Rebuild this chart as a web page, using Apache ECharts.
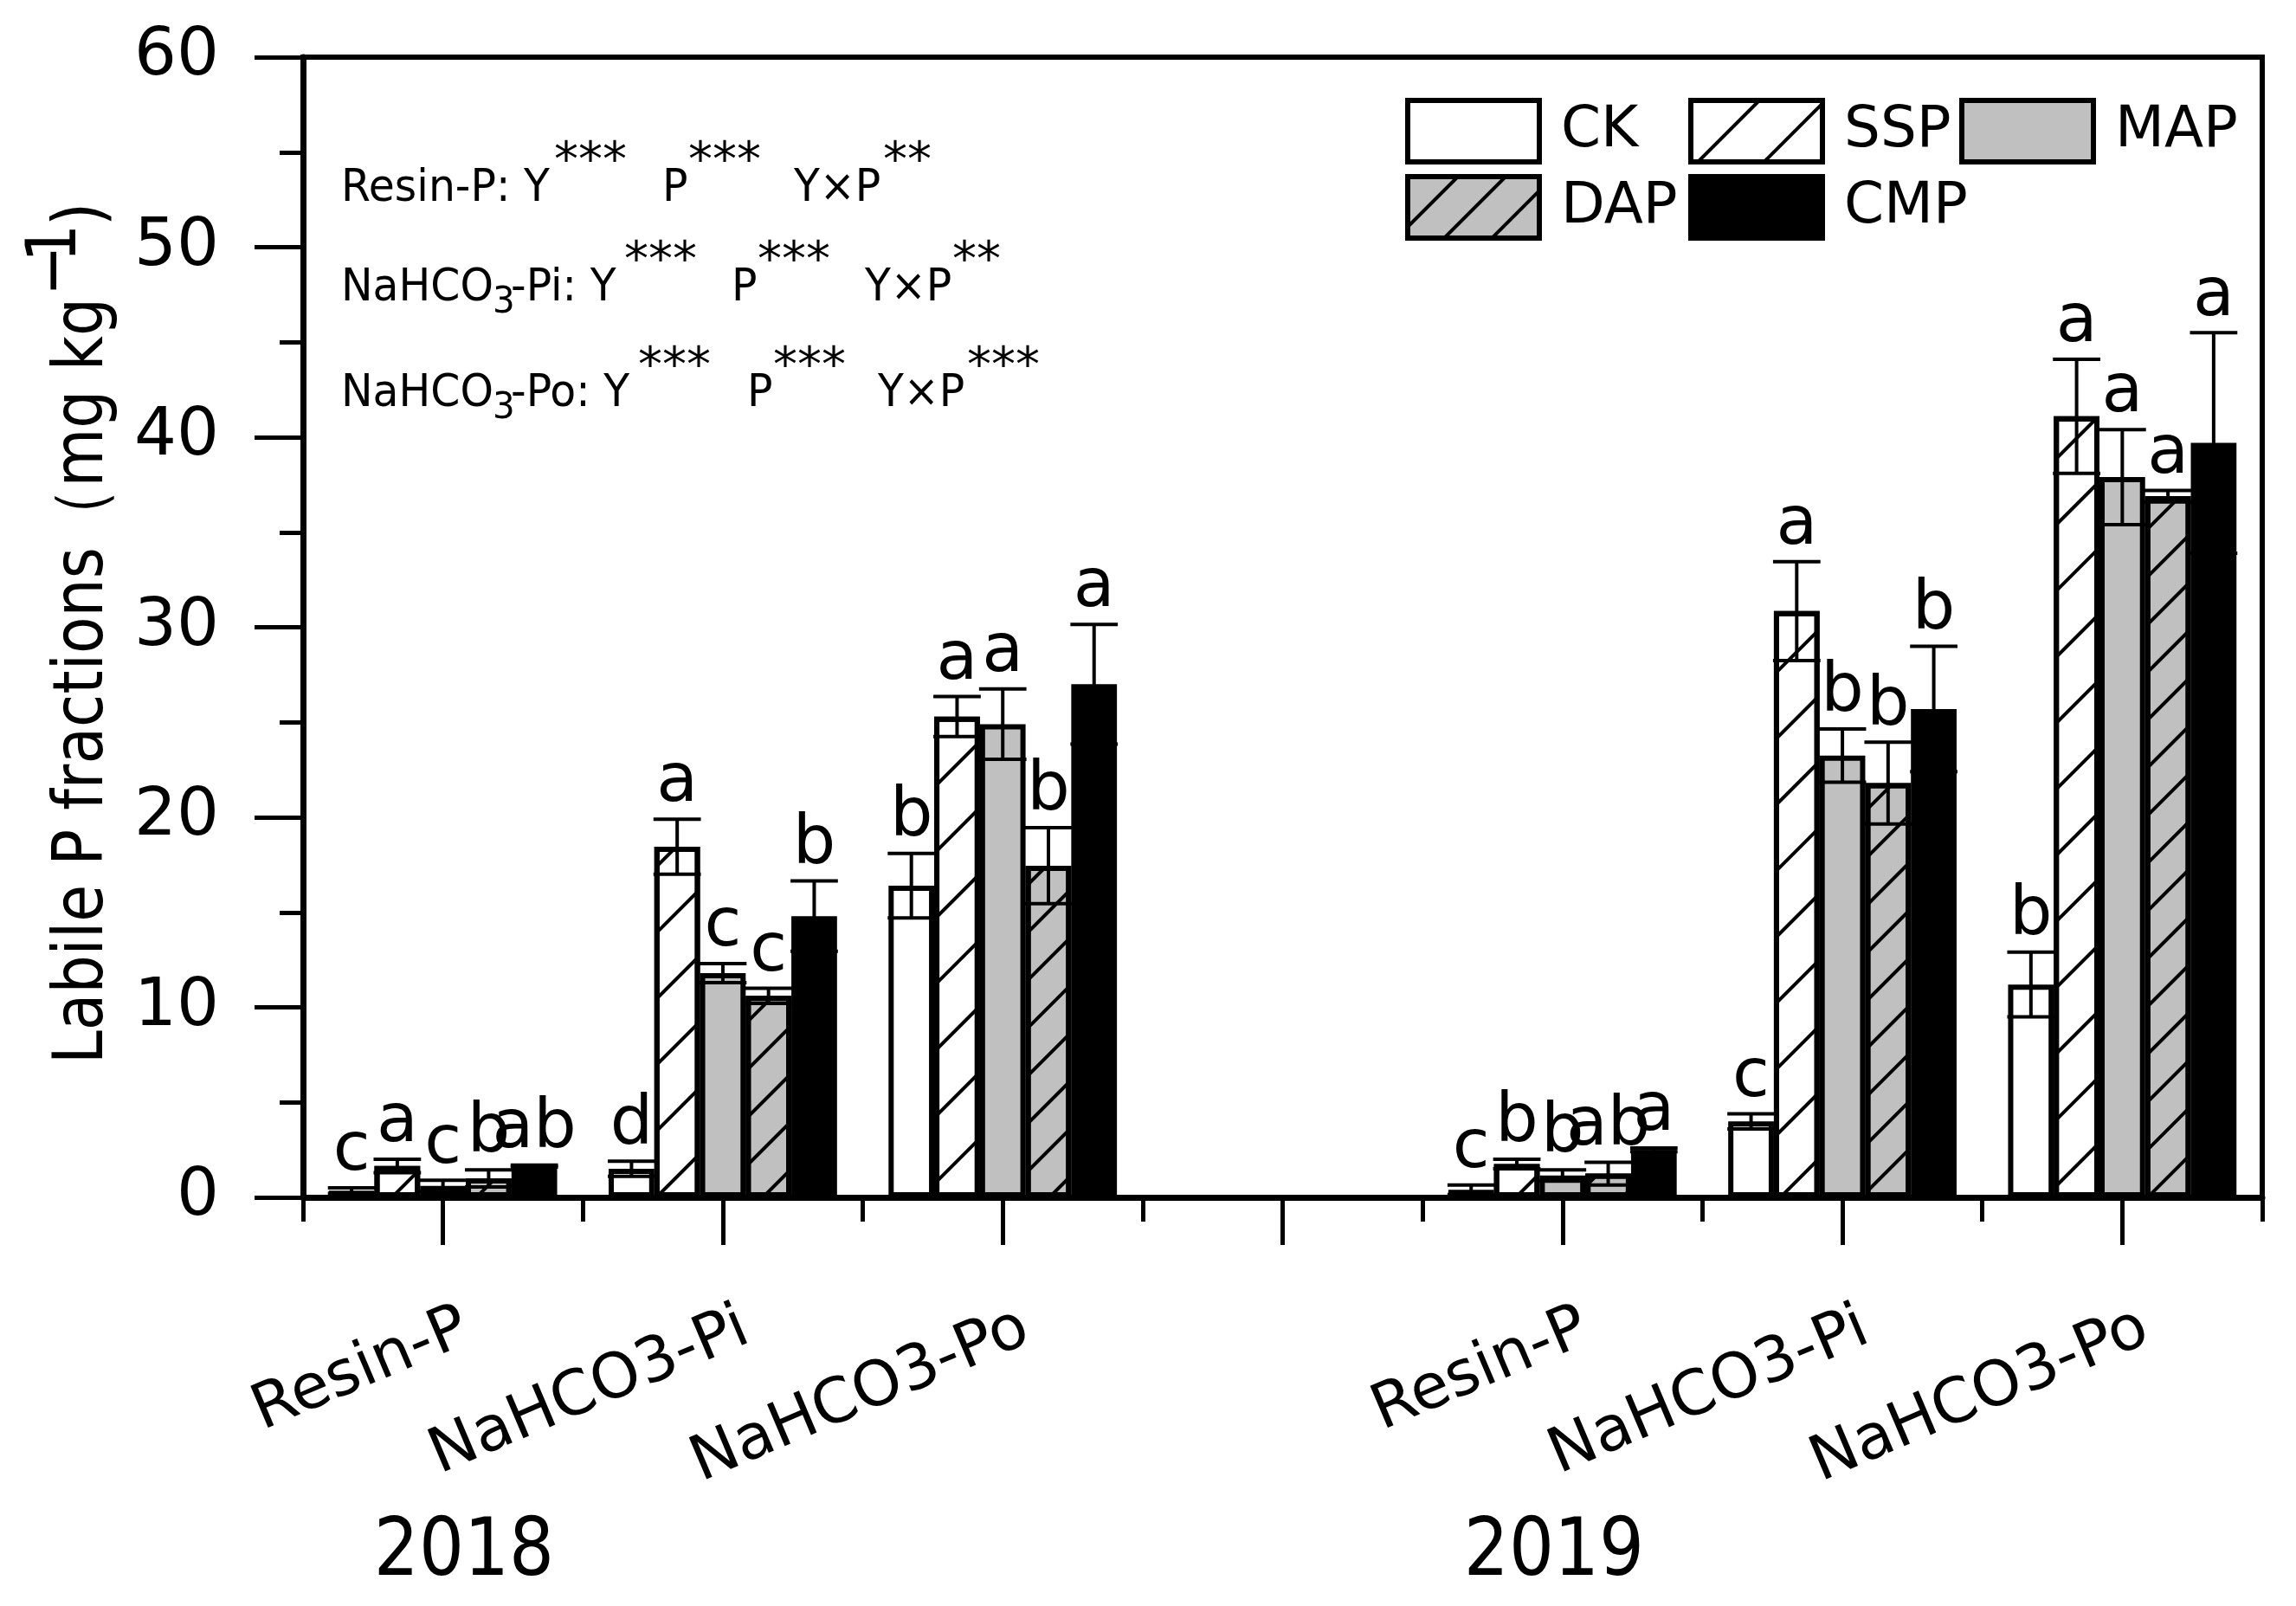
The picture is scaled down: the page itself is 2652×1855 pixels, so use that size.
<!DOCTYPE html>
<html>
<head>
<meta charset="utf-8">
<script src="https://cdn.jsdelivr.net/npm/echarts@6/dist/echarts.min.js"></script>
<style>
html,body{margin:0;padding:0;background:#fff;}
#chart{width:2652px;height:1855px;}
</style>
</head>
<body>
<div id="chart"></div>
<script>
// ---------------- data ----------------
const categories = ['Resin-P', 'NaHCO3-Pi', 'NaHCO3-Po', '', 'Resin-P', 'NaHCO3-Pi', 'NaHCO3-Po'];
const yearLabels = ['2018', '2019'];
const fertilizers = ['CK', 'SSP', 'MAP', 'DAP', 'CMP'];

const CK      = [0.35, 1.5, 16.4, null, 0.4, 4.0, 11.2];
const CK_err  = [0.15, 0.4, 1.7, null, 0.25, 0.4, 1.7];
const CK_sig  = ['c', 'd', 'b', '', 'c', 'c', 'b'];

const SSP     = [1.65, 18.45, 25.3, null, 1.75, 30.85, 41.1];
const SSP_err = [0.35, 1.45, 1.05, null, 0.25, 2.6, 3.0];
const SSP_sig = ['a', 'a', 'a', '', 'b', 'a', 'a'];

const MAP     = [0.6, 11.8, 24.9, null, 1.15, 23.25, 37.9];
const MAP_err = [0.3, 0.5, 1.85, null, 0.3, 1.4, 2.5];
const MAP_sig = ['c', 'c', 'a', '', 'b', 'b', 'a'];

const DAP     = [1.0, 10.6, 17.45, null, 1.25, 21.8, 36.9];
const DAP_err = [0.45, 0.4, 2.0, null, 0.6, 2.15, 0.3];
const DAP_sig = ['b', 'c', 'b', '', 'ab', 'b', 'a'];

const CMP     = [1.65, 14.8, 27.0, null, 2.5, 25.7, 39.7];
const CMP_err = [0.05, 1.85, 3.15, null, 0.1, 3.3, 5.8];
const CMP_sig = ['ab', 'b', 'a', '', 'a', 'b', 'a'];

const yTicks = {min: 0, max: 60, interval: 10};

// significance annotation lines
const annotLines = [
  {label: 'Resin-P: Y', sub: null, rest: null, y: '***', p: '***', yxp: '**'},
  {label: 'NaHCO', sub: '3', rest: '-Pi: Y', y: '***', p: '***', yxp: '**'},
  {label: 'NaHCO', sub: '3', rest: '-Po: Y', y: '***', p: '***', yxp: '***'}
];
const yTitleParts = ['Labile P fractions（mg kg', '−', '1', ')'];

// ---------------- build ----------------
const means = [CK, SSP, MAP, DAP, CMP];
const errs = [CK_err, SSP_err, MAP_err, DAP_err, CMP_err];
const sigs = [CK_sig, SSP_sig, MAP_sig, DAP_sig, CMP_sig];
const fills = ['#ffffff', '#ffffff', '#c0c0c0', '#c0c0c0', '#000000'];
const GAP = 0.184;
const FONT = '"DejaVu Sans"';

function hatch(gap) {
  return {symbol: 'rect', dashArrayX: [1, 0], dashArrayY: [4, gap], rotation: -Math.PI / 4, color: '#000'};
}
const decals = [null, hatch(50), null, hatch(35), null];

const series = [];
fertilizers.forEach((f, k) => {
  const is = {color: fills[k], borderColor: '#000', borderWidth: 6};
  if (decals[k]) is.decal = decals[k];
  series.push({
    type: 'bar', name: f, data: means[k].map(v => v == null ? '-' : v),
    xAxisIndex: 0, yAxisIndex: 0,
    barGap: '0%', barCategoryGap: (GAP * 100) + '%',
    itemStyle: is, emphasis: {disabled: true}, z: 2
  });
});
fertilizers.forEach((f, k) => {
  const rows = [];
  const letters = [];
  means[k].forEach((v, i) => {
    if (v != null) { rows.push([i, v, errs[k][i]]); letters.push(sigs[k][i]); }
  });
  series.push({
    type: 'custom', name: f + ' error', data: rows, xAxisIndex: 0, yAxisIndex: 0,
    encode: {x: 0, y: 1}, z: 5, silent: true, clip: false,
    renderItem: function (params, api) {
      const cat = api.value(0), m = api.value(1), e = api.value(2);
      const band = api.size([1, 0])[0];
      const bw = band * (1 - GAP) / 5;
      const off = (k - 2) * bw;
      const top = api.coord([cat, m + e]);
      const bot = api.coord([cat, Math.max(m - e, 0)]);
      const x = top[0] + off;
      const h = bw / 2 + 1;
      const ls = {stroke: '#000', lineWidth: 4};
      return {
        type: 'group',
        children: [
          {type: 'line', shape: {x1: x, y1: top[1], x2: x, y2: bot[1]}, style: ls},
          {type: 'line', shape: {x1: x - h, y1: top[1], x2: x + h, y2: top[1]}, style: ls},
          {type: 'line', shape: {x1: x - h, y1: bot[1], x2: x + h, y2: bot[1]}, style: ls},
          {type: 'text', x: x, y: top[1] - 2, style: {
            text: letters[params.dataIndex], font: '78px ' + FONT, fill: '#000',
            textAlign: 'center', align: 'center', textVerticalAlign: 'bottom', verticalAlign: 'bottom'}}
        ]
      };
    }
  });
});

// legends
const legendPos = [[1623, 113], [1950, 113], [2263, 113], [1623, 201], [1950, 201]];
const legends = fertilizers.map((f, k) => ({
  data: [f], left: legendPos[k][0], top: legendPos[k][1], padding: 0,
  icon: 'rect', itemWidth: 152, itemHeight: 71,
  itemStyle: {borderWidth: 6, borderColor: '#000'},
  textStyle: {fontSize: 66, fontFamily: FONT, color: '#000', padding: [0, 0, 0, 20]},
  selectedMode: false
}));

// graphic texts (layout)
function gtext(x, y, s, fs, extra) {
  return Object.assign({type: 'text', x: x, y: y, silent: true, style: {
    text: s, font: fs + 'px ' + FONT, fill: '#000',
    textAlign: 'left', align: 'left', textVerticalAlign: 'middle', verticalAlign: 'middle'}}, extra || {});
}
const graphics = [];
const AF = 52, SF = 56, BF = 43, SQ = 0.94;
const lineBase = [234, 349, 471];
const xs = [
  {label: 394, sub: 569, rest: 590, y: 640, P: 765, p: 795, yxp: 917, s: 1020},
  {label: 394, sub: 569, rest: 590, y: 721, P: 845, p: 875, yxp: 999, s: 1100},
  {label: 394, sub: 569, rest: 590, y: 737, P: 863, p: 893, yxp: 1014, s: 1117}
];
annotLines.forEach((ln, i) => {
  const B = lineBase[i], p = xs[i];
  const mid = (b, fs) => b - 0.3 * fs;
  const e = {scaleX: SQ};
  graphics.push(gtext(p.label, mid(B, AF), ln.label, AF, e));
  if (ln.sub) graphics.push(gtext(p.sub, mid(B + 14, BF), ln.sub, BF, e));
  if (ln.rest) graphics.push(gtext(p.rest, mid(B, AF), ln.rest, AF, e));
  graphics.push(gtext(p.y, mid(B - 29, SF), ln.y, SF));
  graphics.push(gtext(p.P, mid(B, AF), 'P', AF, e));
  graphics.push(gtext(p.p, mid(B - 29, SF), ln.p, SF));
  graphics.push(gtext(p.yxp, mid(B, AF), 'Y×P', AF, e));
  graphics.push(gtext(p.s, mid(B - 29, SF), ln.yxp, SF));
});
// year labels
const yearX = [536, 1795];
yearLabels.forEach((t, i) => {
  const g = gtext(yearX[i], 1823 - 0.3 * 93, t, 93, {scaleX: 0.88});
  g.style.textAlign = 'center'; g.style.align = 'center';
  graphics.push(g);
});
// y axis title
const rot = {rotation: Math.PI / 2, scaleX: 0.87};
graphics.push(gtext(97, 1229, yTitleParts[0], 80, rot));
graphics.push(gtext(66, 342, yTitleParts[1], 80, rot));
graphics.push(gtext(66, 303, yTitleParts[2], 80, rot));
graphics.push(gtext(97, 261, yTitleParts[3], 80, rot));

const option = {
  animation: false,
  backgroundColor: '#fff',
  textStyle: {fontFamily: FONT, color: '#000'},
  grid: {left: 350, right: 39, top: 66, bottom: 472, show: true, borderColor: '#000', borderWidth: 6, backgroundColor: 'transparent'},
  legend: legends,
  xAxis: [
    {
      type: 'category', data: categories, position: 'bottom', gridIndex: 0,
      axisLine: {show: true, lineStyle: {color: '#000', width: 7}},
      axisTick: {show: true, interval: 0, length: 28, lineStyle: {color: '#000', width: 5}},
      axisLabel: {interval: 0, rotate: 23, fontSize: 72, margin: 85, lineHeight: 138,
        verticalAlign: 'top', color: '#000', fontFamily: FONT},
      splitLine: {show: false}
    },
    {
      type: 'category', data: categories, position: 'bottom', gridIndex: 0, offset: 0,
      axisLine: {show: false},
      axisTick: {show: true, interval: 0, alignWithLabel: true, length: 55, lineStyle: {color: '#000', width: 5}},
      axisLabel: {show: false}, splitLine: {show: false}
    }
  ],
  yAxis: {
    type: 'value', min: yTicks.min, max: yTicks.max, interval: yTicks.interval,
    axisLine: {show: true, lineStyle: {color: '#000', width: 7}},
    axisTick: {show: true, length: 56, lineStyle: {color: '#000', width: 5}},
    minorTick: {show: true, splitNumber: 2, length: 27, lineStyle: {color: '#000', width: 5}},
    axisLabel: {fontSize: 77, margin: 97, color: '#000', fontFamily: FONT},
    splitLine: {show: false}, minorSplitLine: {show: false}
  },
  series: series,
  graphic: graphics
};

const chart = echarts.init(document.getElementById('chart'), null, {renderer: 'canvas'});
chart.setOption(option);
</script>
</body>
</html>
